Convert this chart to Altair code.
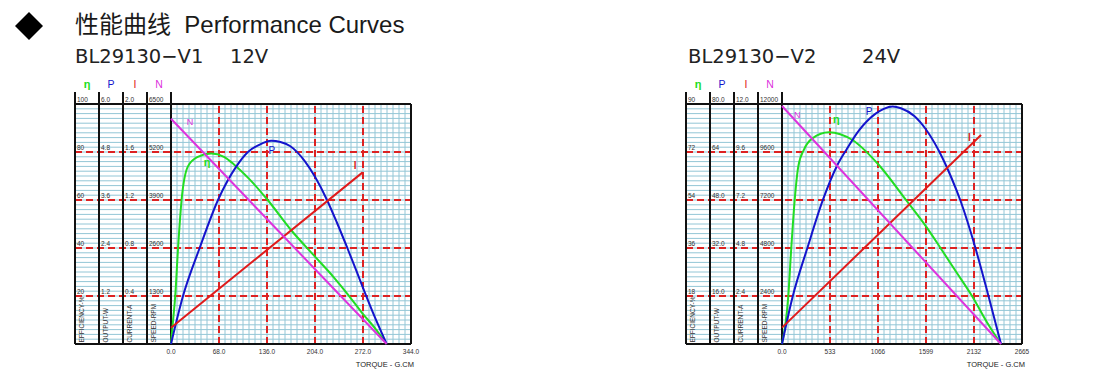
import altair as alt
import pandas as pd

# ---------------- Panel 1 : BL29130-V1 12V ----------------
v1_model = "BL29130−V1"
v1_volt = "12V"
v1_torque_ticks = [0, 68, 136, 204, 272, 340]
v1_torque_labels = ["0.0", "68.0", "136.0", "204.0", "272.0", "344.0"]
v1_eff_ticks = ["20", "40", "60", "80", "100"]
v1_out_ticks = ["1.2", "2.4", "3.6", "4.8", "6.0"]
v1_cur_ticks = ["0.4", "0.8", "1.2", "1.6", "2.0"]
v1_spd_ticks = ["1300", "2600", "3900", "5200", "6500"]
v1_eff_max, v1_out_max, v1_cur_max, v1_spd_max = 100, 6.0, 2.0, 6500

v1_eff_torque = [0, 3, 6, 10, 15, 24, 38, 57, 75, 90, 110, 137, 170, 204, 230, 251, 270, 290, 305.5]
v1_eff = [0, 10, 20, 40, 60, 74, 78, 79.4, 78, 74.6, 69, 60, 47.5, 36.4, 28, 20.5, 13.2, 6.2, 0]
v1_out_torque = [0, 17, 40.6, 66.6, 92.6, 109, 125, 142, 155, 168.6, 190, 204, 220.5, 234.7, 249.8, 262, 274.8, 290, 305.5]
v1_out = [0, 1.2, 2.4, 3.6, 4.44, 4.8, 4.98, 5.08, 5.05, 4.95, 4.56, 4.18, 3.62, 3.05, 2.4, 1.86, 1.28, 0.62, 0]
v1_cur_torque = [0, 271.5]
v1_cur = [0.136, 1.43]
v1_spd_torque = [0, 305.5]
v1_spd = [6100, 0]

# ---------------- Panel 2 : BL29130-V2 24V ----------------
v2_model = "BL29130−V2"
v2_volt = "24V"
v2_torque_ticks = [0, 533, 1066, 1599, 2132, 2665]
v2_torque_labels = ["0.0", "533", "1066", "1599", "2132", "2665"]
v2_eff_ticks = ["18", "36", "54", "72", "90"]
v2_out_ticks = ["16.0", "32.0", "48.0", "64", "80.0"]
v2_cur_ticks = ["2.4", "4.8", "7.2", "9.6", "12.0"]
v2_spd_ticks = ["2400", "4800", "7200", "9600", "12000"]
v2_eff_max, v2_out_max, v2_cur_max, v2_spd_max = 90, 80.0, 12.0, 12000

v2_eff_torque = [0, 70, 103, 141, 181, 244, 337, 522, 781, 1066, 1377, 1599, 1760, 1935, 2110, 2284, 2432]
v2_eff = [0, 18, 36, 54, 66.6, 72.9, 77.1, 79.4, 76.5, 67.5, 54, 44.1, 36, 27, 18, 7.7, 0]
v2_out_torque = [0, 116, 286, 455, 614, 720, 855, 1040, 1130, 1229, 1321, 1469, 1599, 1740, 1880, 1985, 2143, 2284, 2432]
v2_out = [0, 15.5, 32.4, 48.1, 59.6, 65, 71.2, 76.8, 78.4, 79.2, 78.6, 76, 71.5, 64.5, 55.5, 47.5, 32.5, 17, 0]
v2_cur_torque = [0, 2210]
v2_cur = [0.82, 10.45]
v2_spd_torque = [0, 2432]
v2_spd = [11900, 0]

col_titles = ["EFFICIENCY-%", "OUTPUT-W", "CURRENT-A", "SPEED-RPM"]
head_symbols = ["η", "P", "I", "N"]
axis_title = "TORQUE - G.CM"
main_title = "性能曲线\u00a0\u00a0Performance Curves"

# ---------------- styling ----------------
BLUE_GRID = "#93c6d6"
RED_GRID = "#dd2222"
BLACK = "#111111"
C_EFF, C_OUT, C_CUR, C_SPD = "#22dd22", "#1414cc", "#e01b1b", "#dd33dd"
SMALL_FONT = "'Liberation Sans Narrow', 'Liberation Sans', sans-serif"
TITLE_FONT = "'Liberation Sans', 'Noto Sans CJK SC', sans-serif"
PW, PH = 336, 252
TOP = 1.05


def panel(cfg, extra_layers):
    ticks = cfg["ticks"]
    step = ticks[1]
    xmax = ticks[-1]
    xmin = -2 * step
    colw = step / 2
    xs = alt.Scale(domain=[xmin, xmax], nice=False, zero=False)
    ys = alt.Scale(domain=[0, TOP], nice=False, zero=False)

    def rules(df, **mk):
        return alt.Chart(df).mark_rule(**mk).encode(
            x=alt.X("x:Q", scale=xs, axis=None), x2="x2:Q",
            y=alt.Y("y:Q", scale=ys, axis=None), y2="y2:Q")

    hmin = [k / 50 for k in range(1, 50)]
    vmin = [k * step / 8 for k in range(1, 40)]
    layers = []
    layers.append(rules(pd.DataFrame({"x": xmin, "x2": xmax, "y": hmin, "y2": hmin}),
                        color=BLUE_GRID, strokeWidth=1))
    layers.append(rules(pd.DataFrame({"x": vmin, "x2": vmin, "y": 0.0, "y2": 1.0}),
                        color=BLUE_GRID, strokeWidth=1))
    majy = [0.2, 0.4, 0.6, 0.8]
    layers.append(rules(pd.DataFrame({"x": xmin, "x2": xmax, "y": majy, "y2": majy}),
                        color=RED_GRID, strokeWidth=2, strokeDash=[7, 4]))
    majx = ticks[1:-1]
    layers.append(rules(pd.DataFrame({"x": majx, "x2": majx, "y": 0.0, "y2": 1.0}),
                        color=RED_GRID, strokeWidth=2, strokeDash=[7, 4]))
    sep = [xmin + i * colw for i in range(5)]
    layers.append(rules(pd.DataFrame({"x": sep, "x2": sep, "y": 0.0, "y2": TOP}),
                        color=BLACK, strokeWidth=2))
    layers.append(rules(pd.DataFrame({"x": [xmax], "x2": [xmax], "y": [0.0], "y2": [1.0]}),
                        color=BLACK, strokeWidth=2))
    layers.append(rules(pd.DataFrame({"x": xmin, "x2": xmax, "y": [0.0, 1.0], "y2": [0.0, 1.0]}),
                        color=BLACK, strokeWidth=2))

    # column values
    rows = []
    for i, labs in enumerate(cfg["cols"]):
        for j, lab in enumerate(labs):
            rows.append({"x": xmin + i * colw, "y": (j + 1) * 0.2, "t": lab})
    layers.append(alt.Chart(pd.DataFrame(rows)).mark_text(
        align="left", baseline="alphabetic", dx=2, dy=-2, fontSize=6.5,
        font=SMALL_FONT, color="#333").encode(
        x=alt.X("x:Q", scale=xs, axis=None), y=alt.Y("y:Q", scale=ys, axis=None), text="t:N"))

    # rotated column titles
    ct = pd.DataFrame({"x": [xmin + (i + 0.31) * colw for i in range(4)], "y": 0.006, "t": col_titles})
    layers.append(alt.Chart(ct).mark_text(
        align="left", baseline="middle", angle=270, fontSize=6.5, font=SMALL_FONT, color="#333").encode(
        x=alt.X("x:Q", scale=xs, axis=None), y=alt.Y("y:Q", scale=ys, axis=None), text="t:N"))

    # header symbols
    hs = pd.DataFrame({"x": [xmin + (i + 0.5) * colw for i in range(4)], "y": TOP,
                       "t": head_symbols, "c": [C_EFF, C_OUT, C_CUR, C_SPD]})
    layers.append(alt.Chart(hs.iloc[1:]).mark_text(
        align="center", baseline="alphabetic", dy=-4, fontSize=10.5, font="Liberation Sans").encode(
        x=alt.X("x:Q", scale=xs, axis=None), y=alt.Y("y:Q", scale=ys, axis=None), text="t:N",
        color=alt.Color("c:N", scale=None)))
    layers.append(alt.Chart(hs.iloc[:1]).mark_text(
        align="center", baseline="alphabetic", dy=-4, fontSize=11, fontWeight="bold",
        font="Liberation Sans").encode(
        x=alt.X("x:Q", scale=xs, axis=None), y=alt.Y("y:Q", scale=ys, axis=None), text="t:N",
        color=alt.Color("c:N", scale=None)))

    # curves
    for T, V, vmax, col, interp in cfg["curves"]:
        df = pd.DataFrame({"t": T, "v": V})
        layers.append(alt.Chart(df).mark_line(color=col, strokeWidth=2, interpolate=interp).encode(
            x=alt.X("t:Q", scale=xs, axis=None),
            y=alt.Y("v:Q", scale=alt.Scale(domain=[0, vmax * TOP], nice=False, zero=False), axis=None)))

    # curve labels
    for tx, fx, txt, col, fs, fw in cfg["labels"]:
        layers.append(alt.Chart(pd.DataFrame({"x": [tx], "y": [fx], "t": [txt]})).mark_text(
            align="center", baseline="middle", fontSize=fs, fontWeight=fw, color=col,
            font="Liberation Sans").encode(
            x=alt.X("x:Q", scale=xs, axis=None), y=alt.Y("y:Q", scale=ys, axis=None), text="t:N"))

    # torque axis labels
    tl = pd.DataFrame({"x": ticks, "y": 0.0, "t": cfg["tick_labels"]})
    layers.append(alt.Chart(tl).mark_text(
        align="center", baseline="middle", dy=8, fontSize=6.5, font=SMALL_FONT, color="#333").encode(
        x=alt.X("x:Q", scale=xs, axis=None), y=alt.Y("y:Q", scale=ys, axis=None), text="t:N"))
    at = pd.DataFrame({"x": [xmax], "y": [0.0], "t": [axis_title]})
    layers.append(alt.Chart(at).mark_text(
        align="right", baseline="middle", dy=21, dx=3, fontSize=7.5, font=SMALL_FONT, color="#222").encode(
        x=alt.X("x:Q", scale=xs, axis=None), y=alt.Y("y:Q", scale=ys, axis=None), text="t:N"))

    layers.extend(extra_layers)
    return alt.layer(*layers).resolve_scale(y="independent").properties(width=PW, height=PH)


one = pd.DataFrame({"a": [0]})


def txt(s, x, y, size, font, color="#111", weight="normal"):
    return alt.Chart(one).mark_text(text=s, align="left", baseline="alphabetic", fontSize=size,
                                    font=font, color=color, fontWeight=weight).encode(
        x=alt.value(x), y=alt.value(y))


left_extra = [
    alt.Chart(one).mark_point(shape="diamond", filled=True, size=784, color="#000", opacity=1,
                              strokeWidth=0).encode(x=alt.value(-46), y=alt.value(-66)),
    txt(main_title, 0, -59, 24, TITLE_FONT, "#1a1a1a"),
    txt(v1_model, 0, -29, 19.5, "DejaVu Sans", "#222"),
    txt(v1_volt, 155, -29, 19.5, "DejaVu Sans", "#222"),
]
right_extra = [
    txt(v2_model, 2, -29, 19.5, "DejaVu Sans", "#222"),
    txt(v2_volt, 176, -29, 19.5, "DejaVu Sans", "#222"),
]

cfg1 = {
    "ticks": v1_torque_ticks, "tick_labels": v1_torque_labels,
    "cols": [v1_eff_ticks, v1_out_ticks, v1_cur_ticks, v1_spd_ticks],
    "curves": [
        (v1_eff_torque, v1_eff, v1_eff_max, C_EFF, "monotone"),
        (v1_out_torque, v1_out, v1_out_max, C_OUT, "monotone"),
        (v1_cur_torque, v1_cur, v1_cur_max, C_CUR, "linear"),
        (v1_spd_torque, v1_spd, v1_spd_max, C_SPD, "linear"),
    ],
    "labels": [
        (26.9, 0.925, "N", C_SPD, 9, "normal"),
        (51, 0.754, "η", C_EFF, 11, "bold"),
        (143, 0.805, "P", C_OUT, 10, "normal"),
        (260.7, 0.742, "I", C_CUR, 10, "bold"),
    ],
}
cfg2 = {
    "ticks": v2_torque_ticks, "tick_labels": v2_torque_labels,
    "cols": [v2_eff_ticks, v2_out_ticks, v2_cur_ticks, v2_spd_ticks],
    "curves": [
        (v2_eff_torque, v2_eff, v2_eff_max, C_EFF, "monotone"),
        (v2_out_torque, v2_out, v2_out_max, C_OUT, "monotone"),
        (v2_cur_torque, v2_cur, v2_cur_max, C_CUR, "linear"),
        (v2_spd_torque, v2_spd, v2_spd_max, C_SPD, "linear"),
    ],
    "labels": [
        (170, 0.954, "N", C_SPD, 9, "normal"),
        (603, 0.933, "η", C_EFF, 11, "bold"),
        (966, 0.965, "P", C_OUT, 10, "normal"),
        (2080, 0.857, "I", C_CUR, 10, "bold"),
    ],
}

chart = alt.hconcat(panel(cfg1, left_extra), panel(cfg2, right_extra),
                    spacing=275, bounds="flush").properties(
    padding={"left": 7, "top": 4, "right": 10, "bottom": 5}
).configure_view(stroke=None)

chart.save("out.html", embed_options={"renderer": "svg", "actions": False})
